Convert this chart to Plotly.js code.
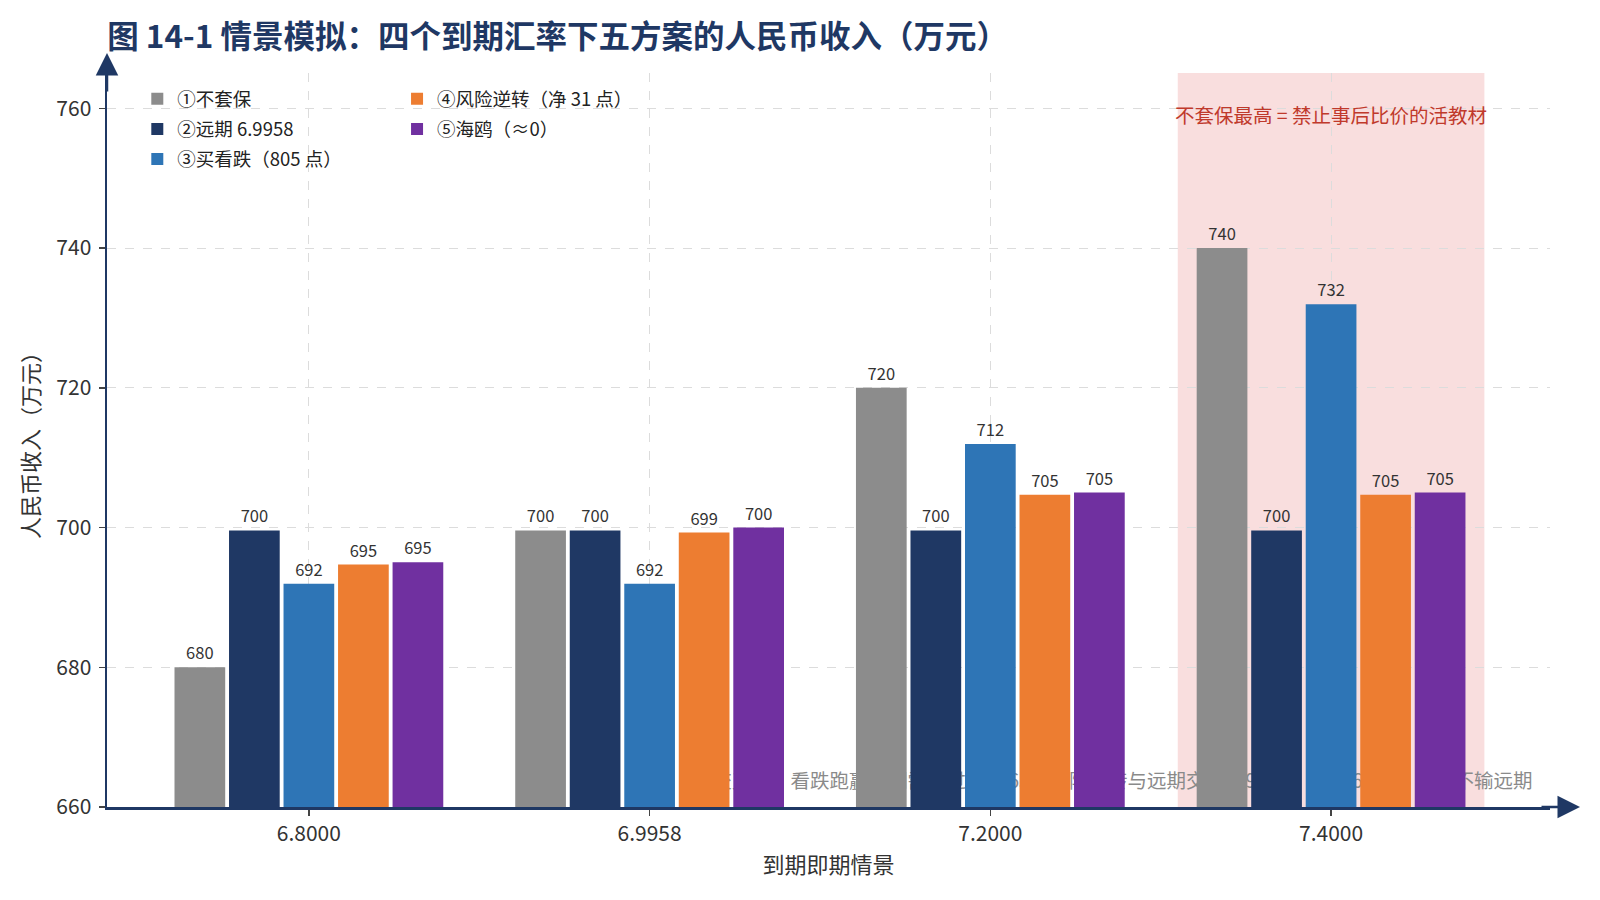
<!DOCTYPE html>
<html>
<head>
<meta charset="utf-8">
<script src="https://cdn.plot.ly/plotly-3.0.1.min.js"></script>
<style>
    html, body { margin: 0; padding: 0; background: #fff; }
    #chart { width: 1600px; height: 900px; }
</style>
</head>
<body>
<div id="chart"></div>
<script>
// 到期即期情景
var scenarios = ['6.8000', '6.9958', '7.2000', '7.4000'];

// 五方案的人民币收入（万元）
var unhedged = [680.0, 699.58, 720.0, 740.0];
var forward = [699.58, 699.58, 699.58, 699.58];
var buyPut = [691.95, 691.95, 711.95, 731.95];
var riskReversal = [694.69, 699.27, 704.69, 704.69];
var seagull = [695.02, 700.0, 705.0, 705.0];

var seriesNames = ['①不套保', '②远期 6.9958', '③买看跌（805 点）', '④风险逆转（净 31 点）', '⑤海鸥（≈0）'];
var seriesColors = ['#8c8c8c', '#1f3864', '#2e75b6', '#ed7d31', '#7030a0'];

var highlightScenario = '7.4000';
var highlightNote = '不套保最高 = 禁止事后比价的活教材';
var crossNote = '交叉点：看跌跑赢远期需涨过 7.0763；风险逆转与远期交叉 6.9989；海鸥 6.8456 以上不输远期';

document.addEventListener("DOMContentLoaded", function () {

    if (typeof Plotly === "undefined") {
        console.error("Plotly.js is not loaded.");
        return;
    }

    var FONT = '"Noto Sans CJK SC", "Noto Sans", sans-serif';
    var NAVY = '#1f3864';

    var values = [unhedged, forward, buyPut, riskReversal, seagull];

    var traces = values.map(function (ys, i) {
        return {
            type: 'bar',
            name: seriesNames[i],
            x: scenarios,
            y: ys,
            marker: { color: seriesColors[i], line: { width: 0 } },
            texttemplate: '%{y:.0f}',
            textposition: 'outside',
            textfont: { family: FONT, size: 16.5, color: '#333' },
            cliponaxis: false,
            hoverinfo: 'skip',
            legendgroup: 'g' + i,
            legend: i < 3 ? 'legend' : 'legend2'
        };
    });

    // category index of the highlighted scenario
    var hi = scenarios.indexOf(highlightScenario);

    var legendBase = {
        bgcolor: 'rgba(0,0,0,0)',
        font: { family: FONT, size: 18.5, color: '#222' },
        traceorder: 'grouped',
        tracegroupgap: 3,
        itemwidth: 30,
        xanchor: 'left',
        yanchor: 'top',
        y: 0.99
    };

    var layout = {
        width: 1600,
        height: 900,
        paper_bgcolor: '#fff',
        plot_bgcolor: '#fff',
        margin: { l: 107, r: 50, t: 73, b: 93 },
        font: { family: FONT, color: '#333' },
        barmode: 'group',
        bargap: 0.2,
        bargroupgap: 0.07,
        title: {
            text: '<b>图 14-1 情景模拟：四个到期汇率下五方案的人民币收入（万元）</b>',
            font: { family: FONT, size: 31.5, color: NAVY },
            xref: 'container', x: 0.067, xanchor: 'left',
            yref: 'container', y: 0.959, yanchor: 'middle'
        },
        xaxis: {
            type: 'category',
            range: [-0.5925, 3.6425],
            showline: true, linecolor: NAVY, linewidth: 2.5,
            ticks: 'outside', ticklen: 6, tickwidth: 1.5, tickcolor: '#444',
            tickfont: { family: FONT, size: 21, color: '#333' },
            showgrid: true, gridcolor: '#dcdcdc', griddash: 'dash', gridwidth: 1,
            zeroline: false,
            title: { text: '到期即期情景', font: { family: FONT, size: 22, color: '#333' }, standoff: 12 },
            fixedrange: true
        },
        yaxis: {
            range: [660, 765.05],
            dtick: 20,
            showline: true, linecolor: NAVY, linewidth: 2.5,
            ticks: 'outside', ticklen: 6, tickwidth: 1.5, tickcolor: '#444',
            ticklabelstandoff: 3,
            tickfont: { family: FONT, size: 21, color: '#333' },
            showgrid: true, gridcolor: '#dcdcdc', griddash: 'dash', gridwidth: 1,
            zeroline: false,
            title: { text: '人民币收入（万元）', font: { family: FONT, size: 22, color: '#333' }, standoff: 11 },
            fixedrange: true
        },
        legend: Object.assign({}, legendBase, { x: 0.021 }),
        legend2: Object.assign({}, legendBase, { x: 0.201 }),
        shapes: [
            // highlighted scenario band
            {
                type: 'rect', layer: 'below',
                xref: 'x', yref: 'paper',
                x0: hi - 0.45, x1: hi + 0.45, y0: 0, y1: 1,
                fillcolor: '#f9dede', line: { width: 0 }
            },
            // crossover note, kept under the bars
            {
                type: 'rect', layer: 'below',
                xref: 'paper', yref: 'paper',
                x0: 0.3, x1: 0.99, y0: 0.013, y1: 0.053,
                fillcolor: 'rgba(0,0,0,0)', line: { width: 0 },
                label: {
                    text: crossNote,
                    textposition: 'middle right',
                    padding: 0,
                    font: { family: FONT, size: 19.5, color: '#8a8a8a' }
                }
            }
        ],
        annotations: [
            {
                x: hi, xref: 'x',
                y: 0.943, yref: 'paper',
                text: highlightNote, showarrow: false,
                font: { family: FONT, size: 19.5, color: '#c0392b' },
                xanchor: 'center', yanchor: 'middle'
            },
            // axis arrow heads
            {
                xref: 'paper', yref: 'paper', x: 1.0208, y: 0,
                ax: -40, ay: 0, text: '', showarrow: true,
                arrowhead: 2, arrowsize: 1.8, arrowwidth: 2.5, arrowcolor: NAVY, standoff: 0
            },
            {
                xref: 'paper', yref: 'paper', x: 0, y: 1.0272,
                ax: 0, ay: 40, text: '', showarrow: true,
                arrowhead: 2, arrowsize: 1.8, arrowwidth: 2.5, arrowcolor: NAVY, standoff: 0
            }
        ]
    };

    Plotly.newPlot("chart", traces, layout, { displayModeBar: false, staticPlot: true });
});
</script>
</body>
</html>
